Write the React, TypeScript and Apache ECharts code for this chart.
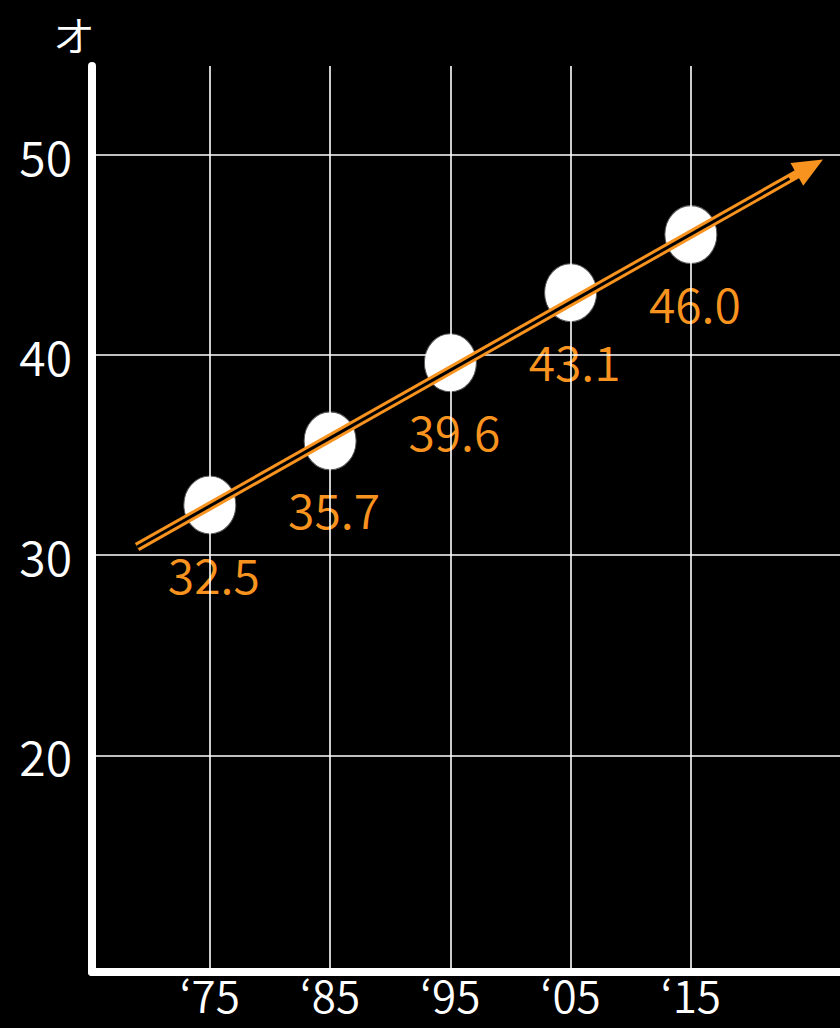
import React, { useEffect, useRef } from "react";
import * as echarts from "echarts";

const years = [1975, 1985, 1995, 2005, 2015];
const ages = [32.5, 35.7, 39.6, 43.1, 46.0];
const xTickLabels = ["‘75", "‘85", "‘95", "‘05", "‘15"];
const yTicks = [20, 30, 40, 50];
const yUnit = "オ";
// trend arrow endpoints in data units (year, age)
const trendStart = [1968.95, 30.4];
const trendEnd = [2024.9, 49.38];
const trendInnerEnd = [2023.2, 48.8];

const ORANGE = "#F7931E";
const FONT = "'Noto Sans CJK JP', 'Noto Sans', sans-serif";
const ELLIPSE =
  "path://M1,0 C1.552,0 2,0.448 2,1 C2,1.552 1.552,2 1,2 C0.448,2 0,1.552 0,1 C0,0.448 0.448,0 1,0 Z";

export default function App() {
  const ref = useRef<HTMLDivElement>(null);
  useEffect(() => {
    document.body.style.margin = "0";
    document.body.style.background = "#000";
    const chart = echarts.init(ref.current!, null, { renderer: "svg" });
    const option: any = {
      animation: false,
      backgroundColor: "#000",
      textStyle: { fontFamily: FONT },
      title: {
        text: yUnit,
        left: 53,
        top: 12,
        padding: 0,
        textStyle: {
          color: "#fff",
          fontSize: 42,
          lineHeight: 42,
          fontWeight: 350,
          fontFamily: FONT,
        },
      },
      grid: { left: 92, right: 0, top: 66, bottom: 56 },
      xAxis: {
        type: "value",
        min: 1965.2,
        max: 2027.4,
        axisLine: { show: true, lineStyle: { color: "#fff", width: 8 } },
        axisTick: { show: false },
        splitLine: { show: false },
        axisLabel: {
          customValues: years,
          color: "#fff",
          fontSize: 44,
          fontWeight: 350,
          lineHeight: 44,
          fontFamily: FONT,
          margin: 0,
          formatter: (v: number) => {
            const i = years.indexOf(Math.round(v));
            return i >= 0 ? xTickLabels[i] : "";
          },
        },
      },
      yAxis: {
        type: "value",
        min: 9.18,
        max: 54.42,
        axisLine: { show: true, lineStyle: { color: "#fff", width: 8 } },
        axisTick: { show: false },
        splitLine: { show: false },
        axisLabel: {
          customValues: yTicks,
          color: "#fff",
          fontSize: 48,
          fontWeight: 350,
          fontFamily: FONT,
          margin: 20,
          padding: [8, 0, 0, 0],
        },
      },
      series: [
        {
          type: "line",
          data: [],
          z: 1,
          markLine: {
            silent: true,
            symbol: "none",
            label: { show: false },
            lineStyle: { color: "#ffffff", width: 1.6, type: "solid", opacity: 1 },
            data: [
              ...yTicks.map((v) => ({ yAxis: v })),
              ...years.map((v) => ({ xAxis: v })),
            ],
          },
        },
        {
          type: "line",
          data: [],
          z: 2,
          markLine: {
            silent: true,
            symbol: ["none", "triangle"],
            symbolSize: [26, 30],
            label: { show: false },
            lineStyle: { color: ORANGE, width: 9, type: "solid", opacity: 1 },
            itemStyle: { color: ORANGE },
            data: [[{ coord: trendStart }, { coord: trendEnd }]],
          },
        },
        {
          type: "line",
          data: [],
          z: 3,
          markLine: {
            silent: true,
            symbol: "none",
            label: { show: false },
            lineStyle: { color: "#000", width: 3, type: "solid", opacity: 1 },
            data: [[{ coord: trendStart }, { coord: trendInnerEnd }]],
          },
        },
        {
          type: "scatter",
          z: 4,
          symbol: ELLIPSE,
          symbolSize: [52, 58],
          itemStyle: { color: "#fff", borderColor: "#555", borderWidth: 1, opacity: 1 },
          label: {
            show: true,
            position: "bottom",
            distance: 14,
            offset: [4, 0],
            color: ORANGE,
            fontSize: 48,
            fontWeight: 350,
            fontFamily: FONT,
            formatter: (p: any) => Number(p.value[1]).toFixed(1),
          },
          data: years.map((y, i) => [y, ages[i]]),
        },
      ],
    };
    chart.setOption(option);
    return () => chart.dispose();
  }, []);
  return <div ref={ref} style={{ width: 840, height: 1028, background: "#000" }} />;
}
